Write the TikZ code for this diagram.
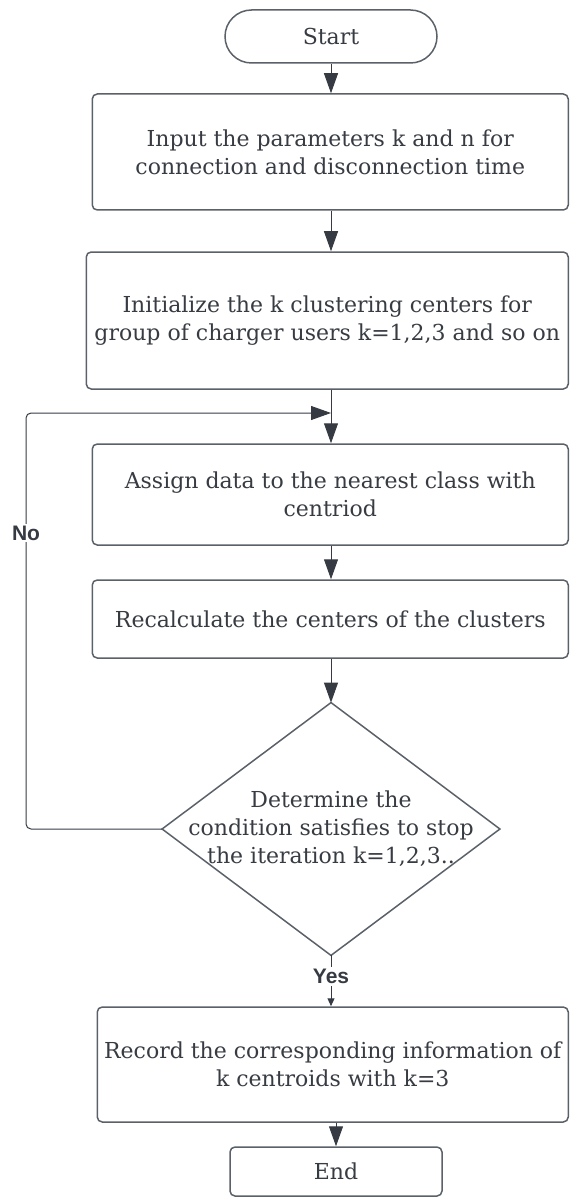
\documentclass[tikz,border=0pt]{standalone}
\usepackage{fontspec}
\setmainfont{DejaVu Serif}
\newfontfamily\labelfont{Liberation Sans}
\usetikzlibrary{arrows.meta}
\definecolor{linegray}{HTML}{363B43}
\definecolor{boxgray}{HTML}{5B6169}
\definecolor{textgray}{HTML}{373B42}
\begin{document}
\begin{tikzpicture}[x=0.5pt,y=-0.5pt,
    >={Triangle[length=10pt,width=7pt]},
    box/.style={draw=boxgray,line width=0.75pt,rectangle,rounded corners=2.5pt,
        align=center,text=textgray,inner sep=0pt,anchor=east,
        font=\fontsize{11}{14}\selectfont},
    terminal/.style={box,anchor=center,minimum width=106pt},
    decision/.style={rectangle,align=center,text=textgray,inner sep=0pt,
        minimum width=168.5pt,minimum height=126pt,
        font=\fontsize{11}{14}\selectfont},
    flow/.style={draw=linegray,line width=0.5pt},
    answer/.style={fill=white,text=linegray,inner sep=1pt,
        font=\labelfont\bfseries\fontsize{10.5}{12}\selectfont}]
    \useasboundingbox (0,0) rectangle (571,1198);
    %% Steps
    \node[terminal,rounded corners=13.25pt,minimum height=26.5pt] (S) at (331,36.5) {Start};
    \node[box,minimum width=238pt,minimum height=58pt] (I) at (569,152)
        {Input the parameters k and n for\\connection and disconnection time};
    \node[box,minimum width=241pt,minimum height=68.5pt] (C) at (569,320.5)
        {Initialize the k clustering centers for\\group of charger users k=1,2,3 and so on};
    \node[box,minimum width=238pt,minimum height=50.5pt] (A) at (569,494.5)
        {Assign data to the nearest class with\\centriod};
    \node[box,minimum width=238pt,minimum height=39pt] (R) at (569,619)
        {Recalculate the centers of the clusters};
    \node[decision] (D) at (331,829)
        {Determine the\\condition satisfies to stop\\the iteration k=1,2,3..};
    \draw[draw=boxgray,line width=0.75pt] (D.north) -- (D.east) -- (D.south) -- (D.west) -- cycle;
    \node[box,minimum width=235.5pt,minimum height=57.5pt] (K) at (569,1064.5)
        {Record the corresponding information of\\k centroids with k=3};
    \node[terminal,minimum height=24.5pt] (E) at (336,1171.5) {End};
    \coordinate (M) at (331,413);
    \coordinate (L) at (26,413);
    %% Arrows
    \draw[flow,->] (S) -- (S.south |- I.north);
    \draw[flow,->] (I.south -| S) -- (C.north -| S);
    \draw[flow,->] (C.south -| M) -- (A.north -| M);
    \draw[flow,->] (A.south -| M) -- (R.north -| M);
    \draw[flow,->] (R.south -| M) -- (D.north);
    \draw[flow,->,rounded corners=2.5pt] (D.west) -| (L) -- (M);
    \draw[flow,-{Triangle[length=4pt,width=3.5pt]}] (D.south) -- (K.north -| D.south)
        node[answer,pos=0.42] (Y) {Yes};
    \draw[flow,->] (K.south -| E) -- (E.north);
    \node[answer] (N) at (26,533) {No};
\end{tikzpicture}
\end{document}
